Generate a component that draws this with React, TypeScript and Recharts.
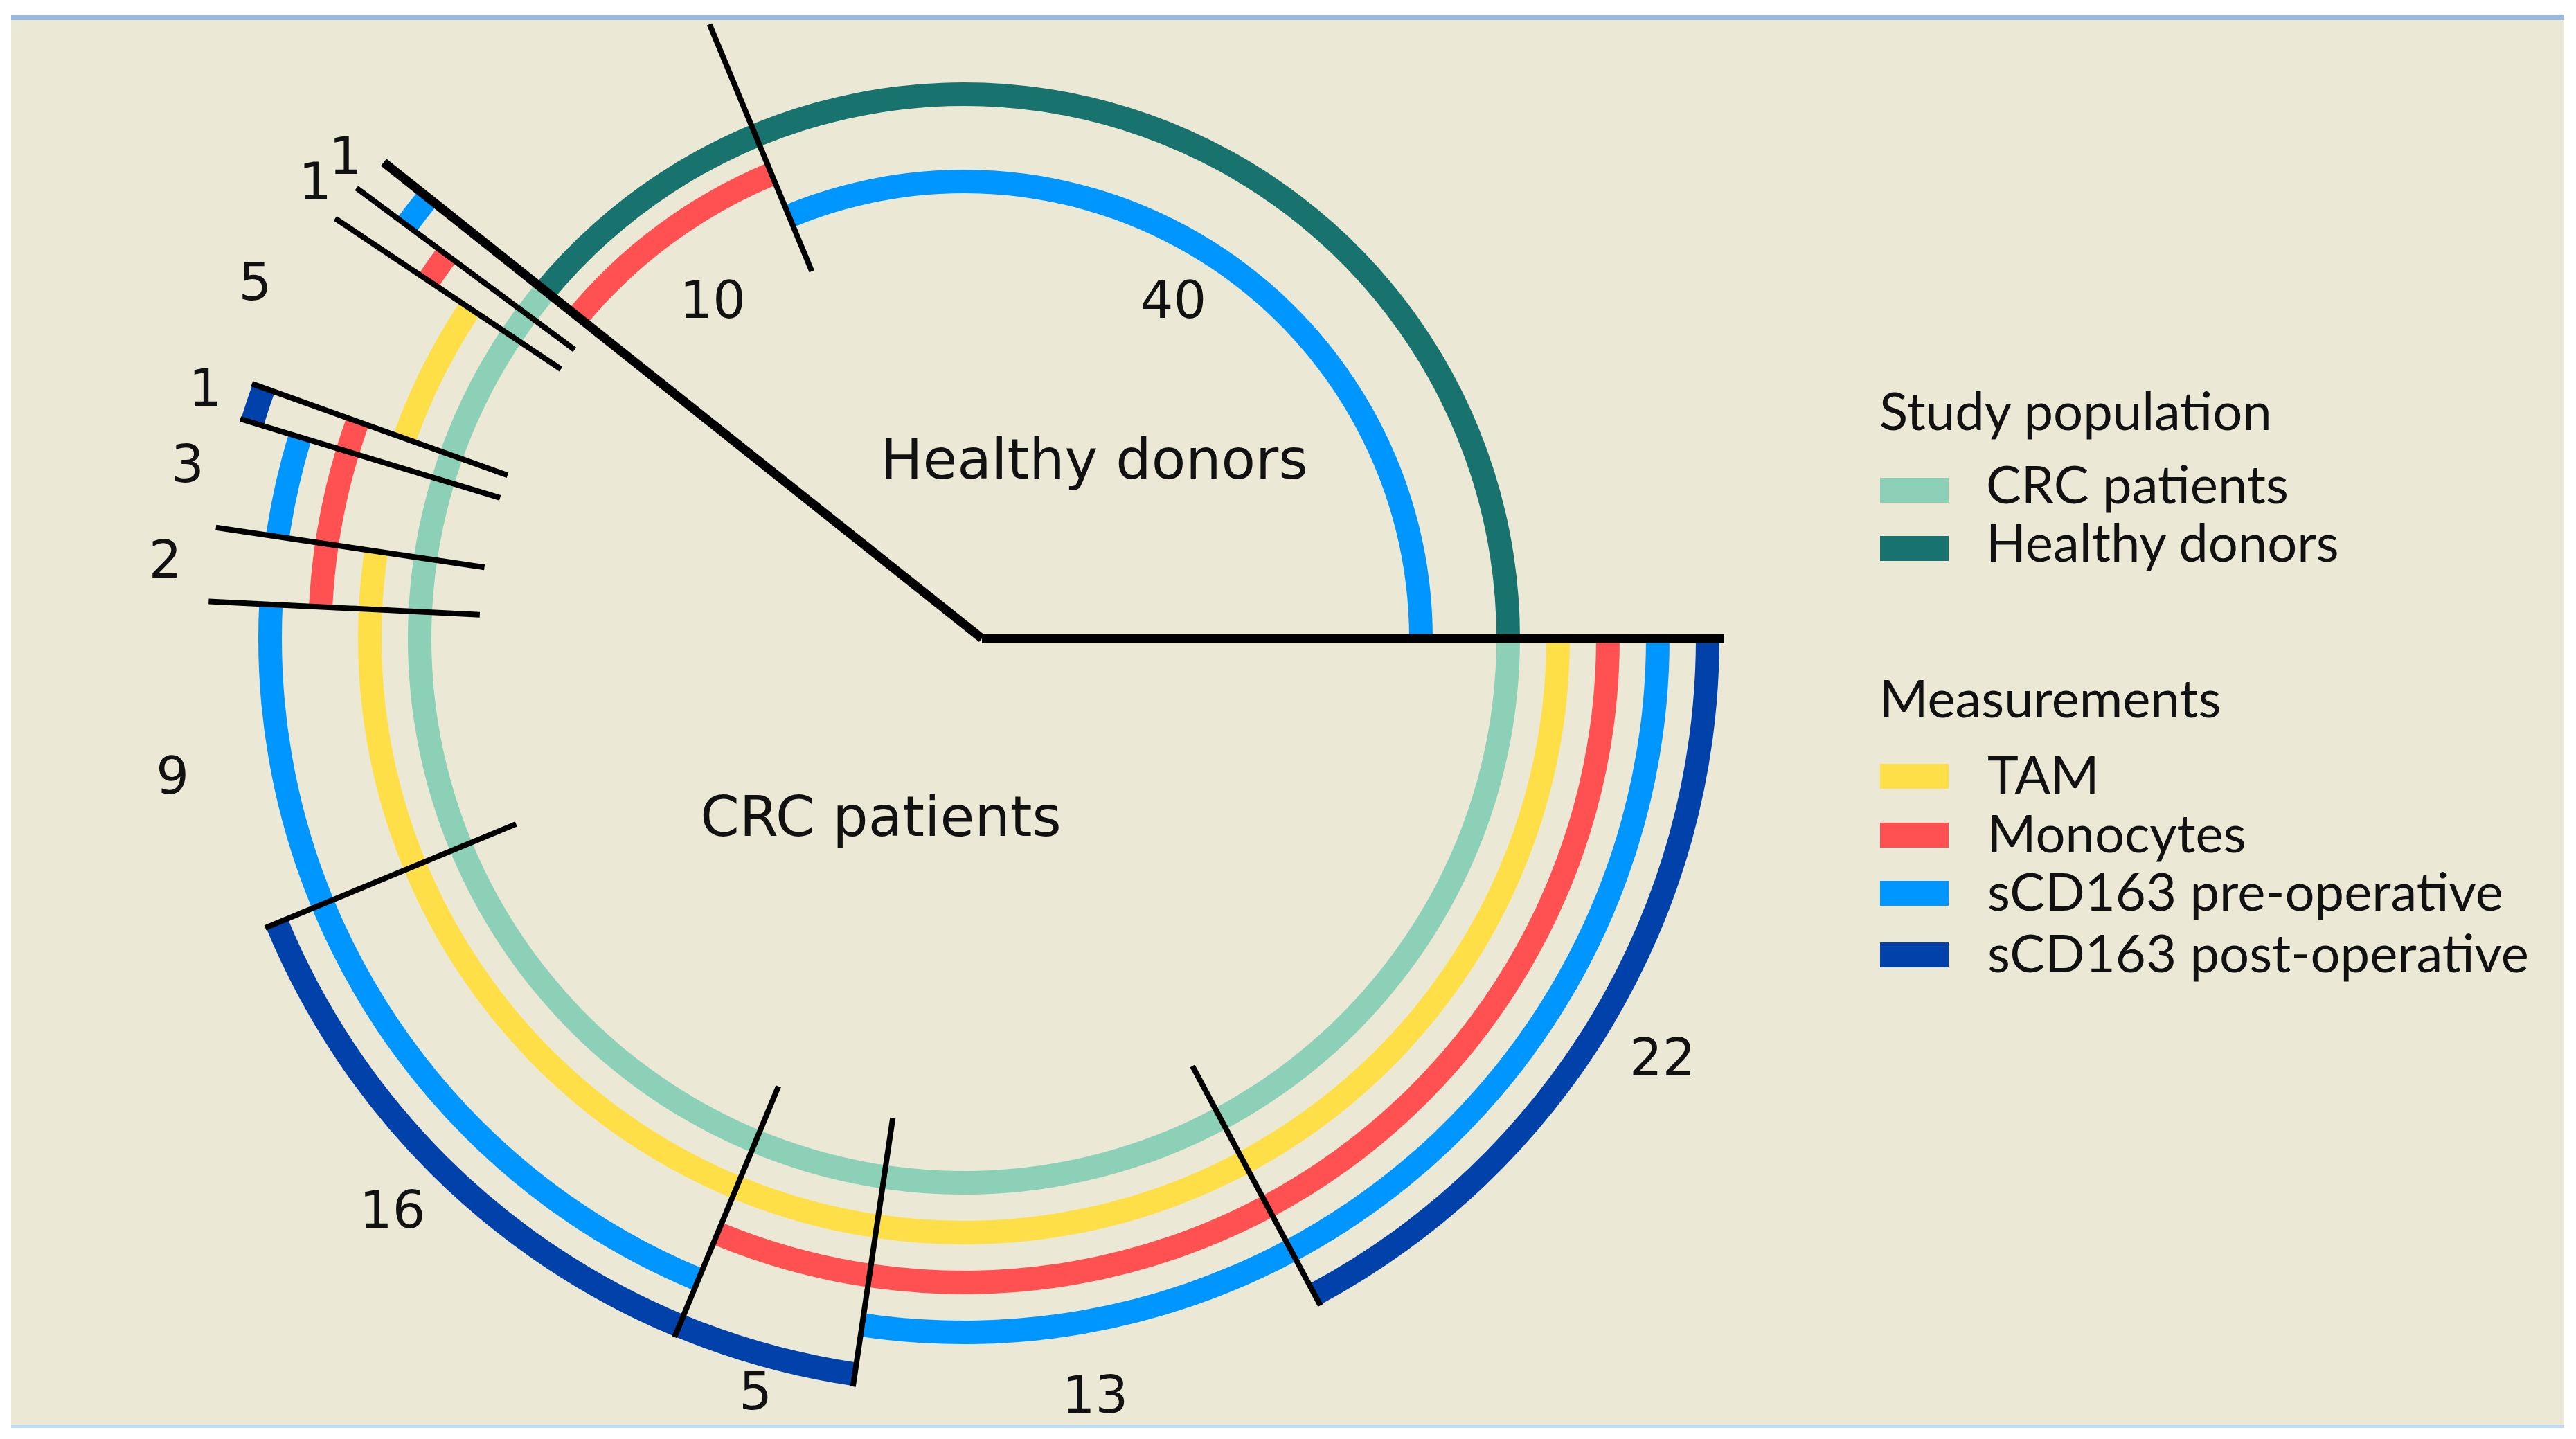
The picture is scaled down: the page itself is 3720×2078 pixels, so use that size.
import React from 'react'
import { PieChart, Pie, Cell, Legend } from 'recharts'

// study groups, counted counter-clockwise from 3 o'clock
const groupNames = ['Healthy donors', 'CRC patients']
const healthyCounts = [40, 10]
const crcCounts = [1, 1, 5, 1, 3, 2, 9, 16, 5, 13, 22]

// which subgroups got which measurement (1 = measured)
const preHealthy = [1, 0]
const monoHealthy = [0, 1]
const tamCrc = [0, 0, 1, 0, 0, 1, 1, 1, 1, 1, 1]
const monoCrc = [0, 1, 0, 1, 1, 1, 0, 0, 1, 1, 1]
const preCrc = [1, 0, 0, 0, 1, 0, 1, 1, 0, 1, 1]
const postCrc = [0, 0, 0, 1, 0, 0, 0, 1, 1, 0, 1]

const studyLegend = ['CRC patients', 'Healthy donors']
const measurementNames = ['TAM', 'Monocytes', 'sCD163 pre-operative', 'sCD163 post-operative']

const colors = {
    crc: '#8dd0b8',
    healthy: '#18736f',
    tam: '#ffdf47',
    mono: '#ff5151',
    pre: '#0096ff',
    post: '#0042a9',
}

const W = 3687
const H = 2029
const CX = 1376
const CY = 893
const RING_W = 34
const HUB_DX = 26 // the two thick lines meet a little right of the ring centre
const RAD = Math.PI / 180
const numFont = '"DejaVu Sans", Verdana, sans-serif'
const legendFont = 'Lato, "Open Sans", sans-serif'

// label distances from the centre
const healthyLabelR = [575, 609]
const crcLabelR = [1133, 1146, 1146, 1154, 1149, 1159, 1160, 1167, 1128, 1108, 1176]
const groupLabelAngle = [54, 245]
const groupLabelR = [320, 284]

const sum = (a: number[]) => a.reduce((s, v) => s + v, 0)
const groupData = [
    { name: groupNames[0], value: sum(healthyCounts), color: colors.healthy },
    { name: groupNames[1], value: sum(crcCounts), color: colors.crc },
]
const segments = [...healthyCounts, ...crcCounts]

function ringData(healthyFlags: number[], crcFlags: number[], color: string) {
    const flags = [...healthyFlags, ...crcFlags]
    return segments.map((v, i) => ({ value: v, color: flags[i] ? color : 'none' }))
}

const none2 = [0, 0]
const none11 = crcCounts.map(() => 0)

const rings = [
    { key: 'hpre', r: 660, data: ringData(preHealthy, none11, colors.pre) },
    { key: 'hmono', r: 726, data: ringData(monoHealthy, none11, colors.mono) },
    { key: 'tam', r: 858, data: ringData(none2, tamCrc, colors.tam) },
    { key: 'mono', r: 930, data: ringData(none2, monoCrc, colors.mono) },
    { key: 'pre', r: 1002, data: ringData(none2, preCrc, colors.pre) },
    { key: 'post', r: 1074, data: ringData(none2, postCrc, colors.post) },
]

const pt = (cx: number, cy: number, r: number, a: number) => [cx + r * Math.cos(-a * RAD), cy + r * Math.sin(-a * RAD)]

function renderSeparator(props: any) {
    const { cx, cy, startAngle, index } = props
    if (index === 0 || index === 2) {
        const [x1, y1] = pt(cx, cy, index === 0 ? 1098 : 1084, startAngle)
        return <line key={`sep-${index}`} x1={cx + HUB_DX} y1={cy} x2={x1} y2={y1} stroke="#000" strokeWidth={13} />
    }
    const [r0, r1] = index === 1 ? [574, 960] : [700, 1092]
    const [x0, y0] = pt(cx, cy, r0, startAngle)
    const [x1, y1] = pt(cx, cy, r1, startAngle)
    return <line key={`sep-${index}`} x1={x0} y1={y0} x2={x1} y2={y1} stroke="#000" strokeWidth={8} />
}

function renderCount(props: any) {
    const { cx, cy, midAngle, index, value } = props
    const r = index < 2 ? healthyLabelR[index] : crcLabelR[index - 2]
    const a = index === 0 ? midAngle + 2 : midAngle
    const [x, y] = pt(cx, cy, r, a)
    return (
        <text key={`cnt-${index}`} x={x} y={y} textAnchor="middle" dominantBaseline="central"
            fontFamily={numFont} fontSize={75} fill="#111">{value}</text>
    )
}

function renderGroup(props: any) {
    const { cx, cy, index, name } = props
    const [x, y] = pt(cx, cy, groupLabelR[index], groupLabelAngle[index])
    return (
        <text key={`grp-${index}`} x={x} y={y} textAnchor="middle" dominantBaseline="central"
            fontFamily={numFont} fontSize={81} fill="#111">{name}</text>
    )
}

function LegendBox() {
    const studyColors = [colors.crc, colors.healthy]
    const measColors = [colors.tam, colors.mono, colors.pre, colors.post]
    const studyRows = [171, 255]
    const measRows = [584, 669, 753, 842]
    const txt = { fontFamily: legendFont, fontSize: 76, fill: '#111' }
    return (
        <svg width={1000} height={960} style={{ display: 'block', overflow: 'visible' }}>
            <text x={18} y={102} {...txt}>Study population</text>
            {studyLegend.map((n, i) => (
                <g key={n}>
                    <rect x={19} y={studyRows[i]} width={99} height={36} fill={studyColors[i]} />
                    <text x={172} y={studyRows[i] + 37} {...txt}>{n}</text>
                </g>
            ))}
            <text x={18} y={517} {...txt}>Measurements</text>
            {measurementNames.map((n, i) => (
                <g key={n}>
                    <rect x={19} y={measRows[i]} width={99} height={36} fill={measColors[i]} />
                    <text x={174} y={measRows[i] + 43} {...txt}>{n}</text>
                </g>
            ))}
        </svg>
    )
}

export default function App() {
    return (
        <div style={{
            position: 'absolute', left: 16, top: 21, width: 3687, height: 2041, boxSizing: 'border-box',
            background: '#ece8d6', borderTop: '8px solid #98b9dd', borderBottom: '4px solid #bcdcf5',
        }}>
            <PieChart width={W} height={H} margin={{ top: 0, right: 0, bottom: 0, left: 0 }} style={{ overflow: 'visible' }}>
                <Pie data={groupData} dataKey="value" nameKey="name" cx={CX} cy={CY}
                    innerRadius={786 - RING_W / 2} outerRadius={786 + RING_W / 2}
                    startAngle={0} endAngle={360} stroke="none" isAnimationActive={false}
                    label={renderGroup} labelLine={false}>
                    {groupData.map((d, i) => <Cell key={`g-${i}`} fill={d.color} />)}
                </Pie>
                {rings.map(ring => (
                    <Pie key={ring.key} data={ring.data} dataKey="value" cx={CX} cy={CY}
                        innerRadius={ring.r - RING_W / 2} outerRadius={ring.r + RING_W / 2}
                        startAngle={0} endAngle={360} stroke="none" isAnimationActive={false}>
                        {ring.data.map((d, i) => <Cell key={`${ring.key}-${i}`} fill={d.color} />)}
                    </Pie>
                ))}
                <Pie data={segments.map(v => ({ value: v }))} dataKey="value" cx={CX} cy={CY}
                    innerRadius={0} outerRadius={1} startAngle={0} endAngle={360}
                    fill="none" stroke="none" isAnimationActive={false}
                    label={renderSeparator} labelLine={false} />
                <Pie data={segments.map(v => ({ value: v }))} dataKey="value" cx={CX} cy={CY}
                    innerRadius={0} outerRadius={1} startAngle={0} endAngle={360}
                    fill="none" stroke="none" isAnimationActive={false}
                    label={renderCount} labelLine={false} />
                <Legend content={() => <LegendBox />} layout="vertical" align="right" verticalAlign="middle"
                    wrapperStyle={{ left: 2680, top: 490, width: 1000, height: 960 }} />
            </PieChart>
        </div>
    )
}
